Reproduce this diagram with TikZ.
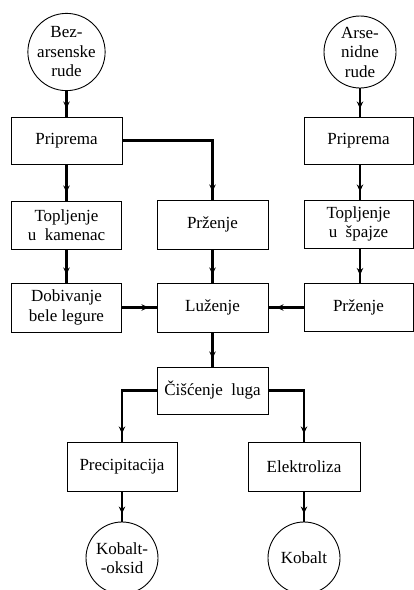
\documentclass[tikz,border=0pt]{standalone}
\usepackage{fontspec}
\setmainfont{Liberation Serif}
\usetikzlibrary{arrows.meta,decorations.markings}
\begin{document}
\begin{tikzpicture}[x=1pt,y=-1pt,
  lbl/.style={font=\fontsize{17}{19.5}\selectfont,align=center},
  box/.style={lbl,draw,line width=1pt,rectangle,inner sep=0pt},
  ore/.style={lbl,draw,line width=0.9pt,circle,inner sep=0pt,minimum size=72pt},
  link/.style={line width=2.2pt,postaction={decorate},
    decoration={markings,mark=at position -8pt with {\arrow{Stealth[length=7pt,width=6.5pt]}}}}]
\useasboundingbox (0,0) rectangle (414,590);

% raw materials
\node[ore] (c1) at (66.5,52) {Bez-\\arsenske\\rude};
\node[ore] (c2) at (360,52) {Arse-\\nidne\\rude};

% left column
\node[box,minimum width=111pt,minimum height=47pt] (p1) at (66.5,140.5) {Priprema};
\node[box,minimum width=110pt,minimum height=48pt] (t1) at (66.5,225) {Topljenje\\u\ \ kamenac};
\node[box,minimum width=110pt,minimum height=49pt] (d1) at (66.5,307.5) {Dobivanje\\bele legure};

% middle column
\node[box,minimum width=111pt,minimum height=49pt] (m1) at (212.5,224.5) {Prženje};
\node[box,minimum width=111pt,minimum height=49pt] (lz) at (212.5,307.5) {Luženje};
\node[box,minimum width=111pt,minimum height=47pt] (cl) at (212.5,390.5) {Čišćenje\ \ luga};

% right column
\node[box,minimum width=109pt,minimum height=47pt] (p2) at (358.5,140.5) {Priprema};
\node[box,minimum width=109pt,minimum height=48pt] (r2) at (358.5,224) {Topljenje\\u\ \ špajze};
\node[box,minimum width=109pt,minimum height=48pt] (rp) at (358.5,307.5) {Prženje};

% final stages
\node[box,minimum width=110pt,minimum height=49pt] (pr) at (122,466.5) {Precipitacija};
\node[box,minimum width=112pt,minimum height=49pt] (el) at (304,466.5) {Elektroliza};
\node[ore] (k1) at (122,558) {Kobalt-\\-oksid};
\node[ore] (k2) at (304,558) {Kobalt};

% connectors
\draw[link] (c1.south) -- (p1.north);
\draw[link] (p1.south) -- (t1.north);
\draw[link] (t1.south) -- (d1.north);
\draw[link] (p1.east) -| (m1.north);
\draw[link] (m1.south) -- (lz.north);
\draw[link] (d1.east) -- (lz.west);
\draw[link] (rp.west) -- (lz.east);
\draw[link] (c2.south) -- (c2.south |- p2.north);
\draw[link] (p2.south -| c2.south) -- (r2.north -| c2.south);
\draw[link] (r2.south -| c2.south) -- (rp.north -| c2.south);
\draw[link] (lz.south) -- (cl.north);
\draw[link] (cl.west) -| (pr.north);
\draw[link] (cl.east) -| (el.north);
\draw[link] (pr.south) -- (k1.north);
\draw[link] (el.south) -- (k2.north);
\end{tikzpicture}
\end{document}
